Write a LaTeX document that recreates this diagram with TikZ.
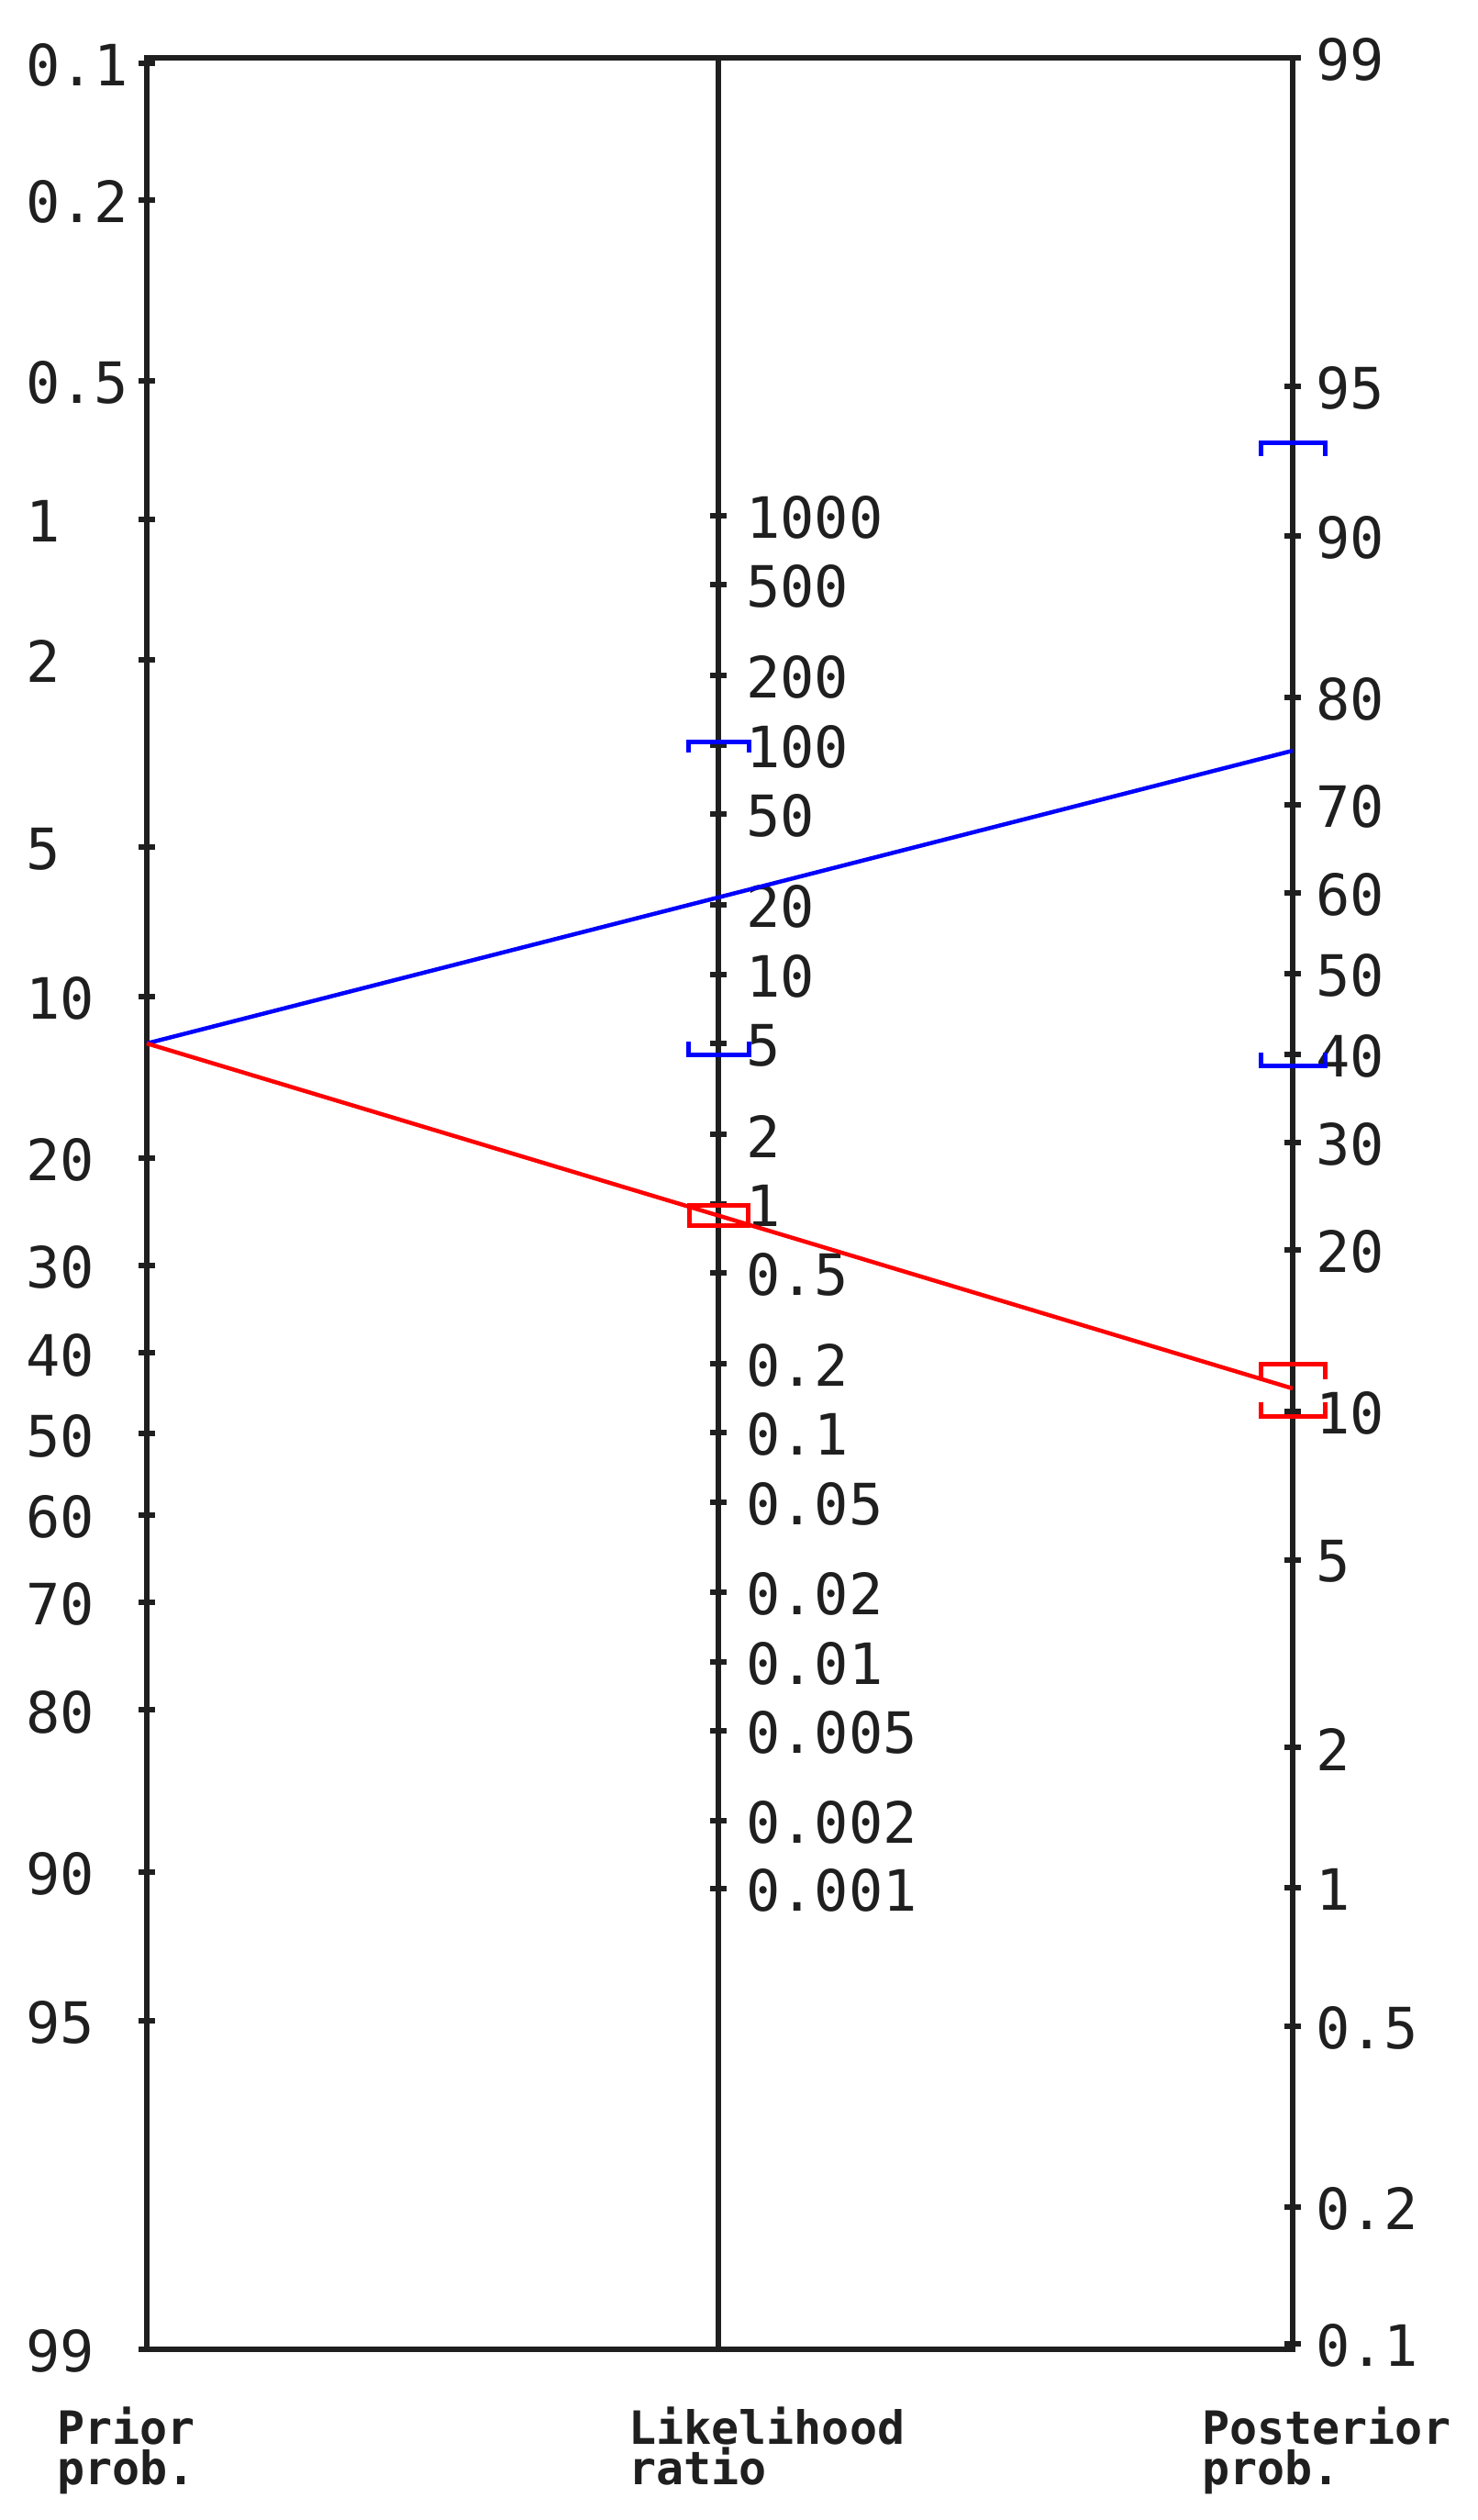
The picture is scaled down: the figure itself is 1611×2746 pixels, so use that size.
\documentclass[tikz,border=0pt]{standalone}
\usepackage{fontspec}
\newfontfamily\nomofont{DejaVu Sans Mono}
\begin{document}
\begin{tikzpicture}[x=1pt,y=-1pt,
  axisline/.style={line width=6pt, color=black!88},
  tickmark/.style={line width=6pt, color=black!88},
  lab/.style={font=\fontsize{62}{62}\selectfont\nomofont, anchor=west, inner sep=0pt, text=black!88},
  ttl/.style={font=\fontsize{50}{44}\selectfont\nomofont\bfseries, anchor=base west, inner sep=0pt, align=left, text=black!88},
  blueline/.style={line width=4.5pt, color=blue},
  redline/.style={line width=4.5pt, color=red},
  bluebrk/.style={line width=5pt, color=blue},
  redbrk/.style={line width=5pt, color=red}]
\useasboundingbox (0,0) rectangle (1611,2746);
\fill[white] (0,0) rectangle (1611,2746);

% frame and axes
\coordinate (TL) at (160,63);
\coordinate (TR) at (1409,63);
\coordinate (BL) at (160,2560);
\coordinate (BR) at (1409,2560);
\coordinate (TM) at (783,63);
\coordinate (BM) at (783,2560);
\draw[axisline] (TL) rectangle (BR);
\draw[axisline] (TM) -- (BM);

% left axis: prior probability
\foreach \p [count=\i] in {0.1,0.2,0.5,1,2,5,10,20,30,40,50,60,70,80,90,95,99} {
  \pgfmathsetmacro{\yy}{63+(ln(\p/(100-\p))+6.9068)*217.1}
  \draw[tickmark] (151,\yy) -- (169,\yy);
  \node[lab] (L\i) at (28,\yy+2) {\p};
}
% right axis: posterior probability
\foreach \p [count=\i] in {99,95,90,80,70,60,50,40,30,20,10,5,2,1,0.5,0.2,0.1} {
  \pgfmathsetmacro{\yy}{63+(4.5951-ln(\p/(100-\p)))*217.1}
  \draw[tickmark] (1400,\yy) -- (1418,\yy);
  \node[lab] (R\i) at (1434,\yy+2) {\p};
}
% middle axis: likelihood ratio
\foreach \v [count=\i] in {1000,500,200,100,50,20,10,5,2,1,0.5,0.2,0.1,0.05,0.02,0.01,0.005,0.002,0.001} {
  \pgfmathsetmacro{\yy}{63+(11.5019-ln(\v))*108.55}
  \draw[tickmark] (774,\yy) -- (792,\yy);
  \node[lab] (M\i) at (813,\yy+2) {\v};
}

% titles (base anchor = baseline of the last line)
\node[ttl] (t1) at (62,2707) {Prior\\prob.};
\node[ttl] (t2) at (685,2707) {Likelihood\\ratio};
\node[ttl] (t3) at (1310,2707) {Posterior\\prob.};

% result lines
\coordinate (prior) at (160,1137);
\coordinate (postB) at (1409,818);
\coordinate (postR) at (1409,1513);
\draw[blueline] (prior) -- (postB);
\draw[redline] (prior) -- (postR);

% confidence brackets
\draw[bluebrk] (750,820) -- (750,808) -- (816,808) -- (816,820);
\draw[bluebrk] (750,1135) -- (750,1149) -- (816,1149) -- (816,1135);
\draw[bluebrk] (1374,497) -- (1374,482) -- (1444,482) -- (1444,497);
\draw[bluebrk] (1374,1147) -- (1374,1161) -- (1444,1161) -- (1444,1147);
\draw[redbrk] (751,1326) -- (751,1313) -- (815,1313) -- (815,1326);
\draw[redbrk] (751,1322) -- (751,1335) -- (815,1335) -- (815,1322);
\draw[redbrk] (1374,1503) -- (1374,1486) -- (1444,1486) -- (1444,1503);
\draw[redbrk] (1374,1528) -- (1374,1543) -- (1444,1543) -- (1444,1528);
\end{tikzpicture}
\end{document}
